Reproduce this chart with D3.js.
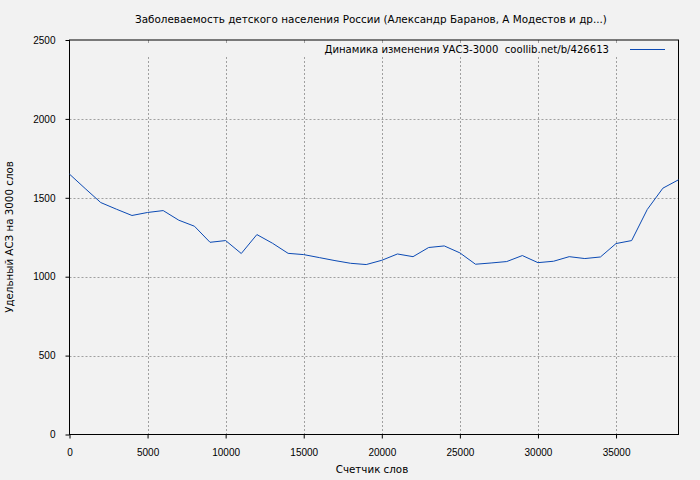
<!DOCTYPE html>
<html>
<head>
<meta charset="utf-8">
<script src="https://cdn.jsdelivr.net/npm/d3@7"></script>
<style>
  body { margin: 0; background: #f2f2f2; }
  svg { display: block; font-family: "DejaVu Sans", sans-serif; }
  .tick text { font-size: 10px; fill: #000; }
</style>
</head>
<body>
<svg id="chart" width="700" height="480"></svg>
<script>
// word counter positions (every 1000 words)
var wordCounts = [0, 1000, 2000, 3000, 4000, 5000, 6000, 7000, 8000, 9000,
  10000, 11000, 12000, 13000, 14000, 15000, 16000, 17000, 18000, 19000,
  20000, 21000, 22000, 23000, 24000, 25000, 26000, 27000, 28000, 29000,
  30000, 31000, 32000, 33000, 34000, 35000, 36000, 37000, 38000, 39000];

// УАСЗ-3000 values
var uaszValues = [1650, 1559, 1470, 1428, 1388, 1407, 1419, 1358, 1320, 1218,
  1229, 1147, 1267, 1212, 1148, 1140, 1121, 1102, 1085, 1077,
  1104, 1144, 1127, 1185, 1195, 1151, 1079, 1087, 1096, 1134,
  1089, 1098, 1127, 1115, 1125, 1210, 1229, 1426, 1561, 1614];

var xTicks = [0, 5000, 10000, 15000, 20000, 25000, 30000, 35000];
var yTicks = [0, 500, 1000, 1500, 2000, 2500];

var titleText = "Заболеваемость детского населения России (Александр Баранов, А Модестов и др...)";
var legendText = "Динамика изменения УАСЗ-3000  coollib.net/b/426613";
var xLabel = "Счетчик слов";
var yLabel = "Удельный АСЗ на 3000 слов";

var svg = d3.select("#chart");
var mLeft = 69.5, mRight = 678.5, mTop = 40, mBottom = 434.5;

var x = d3.scaleLinear().domain([0, 39000]).range([mLeft, mRight]);
var y = d3.scaleLinear().domain([0, 2500]).range([mBottom, mTop]);

var data = wordCounts.map(function (w, i) { return { w: w, v: uaszValues[i] }; });

// grid
var grid = svg.append("g")
  .attr("stroke", "#a0a0a0")
  .attr("stroke-width", 1)
  .attr("stroke-dasharray", "2,2");

grid.selectAll("line.vx")
  .data(xTicks.filter(function (d) { return d > 0; }))
  .enter().append("line")
  .attr("x1", function (d) { return Math.round(x(d)) + 0.5; })
  .attr("x2", function (d) { return Math.round(x(d)) + 0.5; })
  .attr("y1", 57)
  .attr("y2", mBottom);

grid.selectAll("line.hy")
  .data(yTicks.filter(function (d) { return d > 0 && d < 2500; }))
  .enter().append("line")
  .attr("y1", function (d) { return Math.round(y(d)) + 0.5; })
  .attr("y2", function (d) { return Math.round(y(d)) + 0.5; })
  .attr("x1", mLeft)
  .attr("x2", mRight);

// mirror ticks along top
svg.append("g").selectAll("line")
  .data(xTicks.filter(function (d) { return d > 0; }))
  .enter().append("line")
  .attr("x1", function (d) { return Math.round(x(d)) + 0.5; })
  .attr("x2", function (d) { return Math.round(x(d)) + 0.5; })
  .attr("y1", mTop).attr("y2", mTop + 3)
  .attr("stroke", "#a0a0a0");

// axes
var xAxis = svg.append("g")
  .attr("transform", "translate(0," + mBottom + ")")
  .call(d3.axisBottom(x).tickValues(xTicks).tickSize(4).tickPadding(10).tickFormat(d3.format("d")));
var yAxis = svg.append("g")
  .attr("transform", "translate(" + mLeft + ",0)")
  .call(d3.axisLeft(y).tickValues(yTicks).tickSize(4).tickPadding(10).tickFormat(d3.format("d")));
[xAxis, yAxis].forEach(function (a) {
  a.select(".domain").remove();
  a.selectAll(".tick line").attr("stroke", "#000");
});

// frame
svg.append("rect")
  .attr("x", mLeft).attr("y", mTop)
  .attr("width", mRight - mLeft).attr("height", mBottom - mTop)
  .attr("fill", "none").attr("stroke", "#000").attr("stroke-width", 1);

// series
var line = d3.line()
  .x(function (d) { return x(d.w); })
  .y(function (d) { return y(d.v); });

svg.append("path")
  .datum(data)
  .attr("d", line)
  .attr("fill", "none")
  .attr("stroke", "#0b4ab4")
  .attr("stroke-width", 1);

// legend
svg.append("text")
  .attr("x", 609).attr("y", 53)
  .attr("text-anchor", "end")
  .attr("font-size", 10.1)
  .style("white-space", "pre")
  .text(legendText);
svg.append("line")
  .attr("x1", 630).attr("x2", 665)
  .attr("y1", 49.5).attr("y2", 49.5)
  .attr("stroke", "#0b4ab4");

// title and labels
svg.append("text")
  .attr("x", 371).attr("y", 23)
  .attr("text-anchor", "middle")
  .attr("font-size", 10.4)
  .text(titleText);

svg.append("text")
  .attr("x", 372).attr("y", 473)
  .attr("text-anchor", "middle")
  .attr("font-size", 10.3)
  .text(xLabel);

svg.append("text")
  .attr("transform", "translate(13,237) rotate(-90)")
  .attr("text-anchor", "middle")
  .attr("font-size", 10.3)
  .text(yLabel);
</script>
</body>
</html>
